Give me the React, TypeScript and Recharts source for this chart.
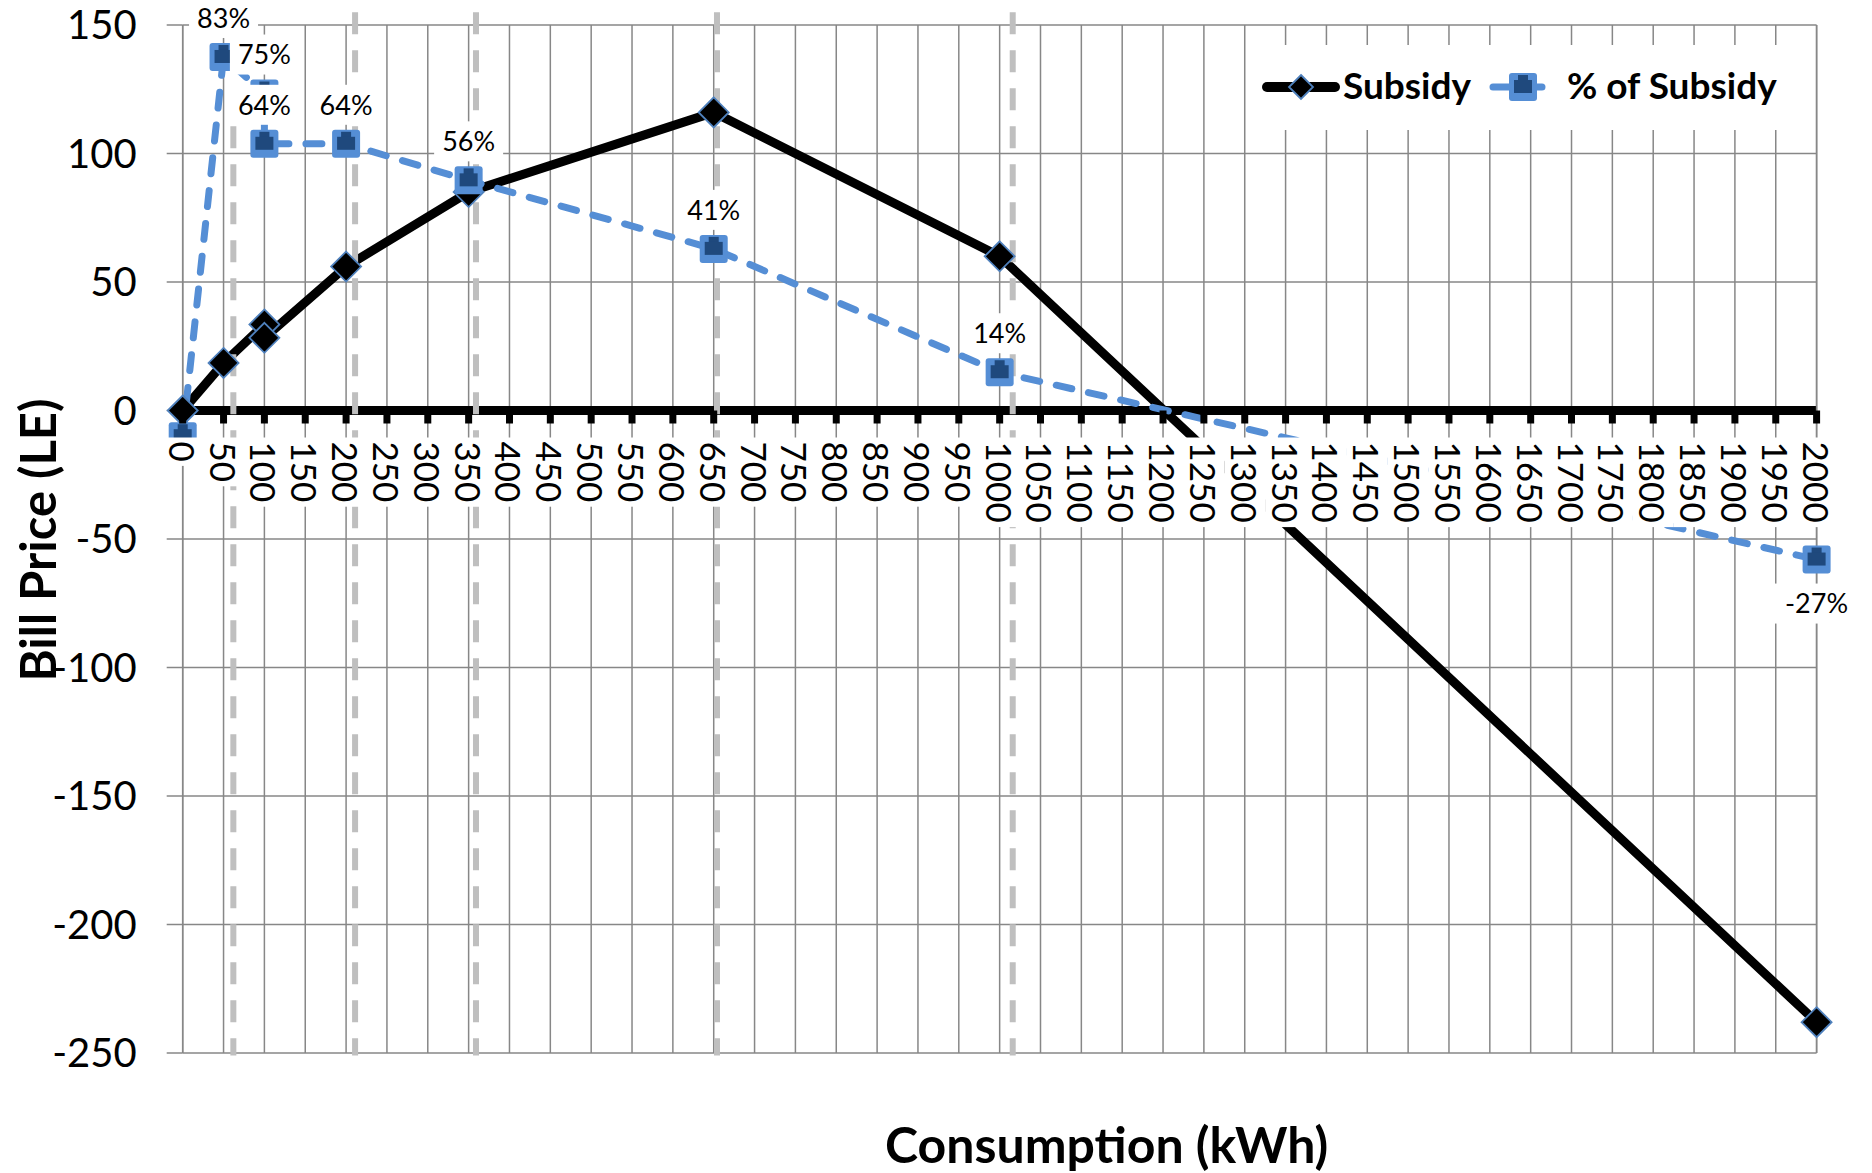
import React from 'react';
import {
  ComposedChart,
  Line,
  XAxis,
  YAxis,
  CartesianGrid,
  ReferenceLine,
  Legend,
  LabelList,
} from 'recharts';

// ---------- data ----------
const consumption = [0, 50, 100, 100, 200, 350, 650, 1000, 2000];
const subsidy = [0, 18.5, 33.5, 28.3, 56, 85, 116, 60, -238];
const subsidyShare = [0, 0.83, 0.75, 0.64, 0.64, 0.56, 0.41, 0.14, -0.27];

const xTicks = [
  0, 50, 100, 150, 200, 250, 300, 350, 400, 450, 500, 550, 600, 650, 700, 750, 800, 850, 900, 950,
  1000, 1050, 1100, 1150, 1200, 1250, 1300, 1350, 1400, 1450, 1500, 1550, 1600, 1650, 1700, 1750,
  1800, 1850, 1900, 1950, 2000,
];
const yTicks = [-250, -200, -150, -100, -50, 0, 50, 100, 150];
const shareTicks = [-1.35, -0.85, -0.35, 0.15, 0.65];
const bracketLines = [62, 211, 359, 654, 1016];

const data = consumption.map((c, i) => ({
  consumption: c,
  subsidy: subsidy[i],
  share: subsidyShare[i],
}));

// ---------- layout ----------
const W = 1872;
const H = 1173;
const PLOT_LEFT = 182.7;
const PLOT_RIGHT = 1816.6;
const PLOT_TOP = 25;
const PLOT_BOTTOM = 1053;
const Y_MIN = -250;
const Y_MAX = 150;
const Y0 = PLOT_TOP + ((PLOT_BOTTOM - PLOT_TOP) * (Y_MAX - 0)) / (Y_MAX - Y_MIN);

const FONT = 'Lato, "Open Sans", sans-serif';
const GRID = '#878787';
const BLUE = '#558ED5';
const NAVY = '#1F497D';

const XTick = (props: any) => {
  const { x, payload } = props;
  const label = String(payload.value);
  const top = Y0 + 31;
  const len = label.length * 20.4;
  return (
    <g>
      <line x1={x} y1={Y0} x2={x} y2={Y0 + 13} stroke="#000" strokeWidth={7} />
      <rect x={x - 20.5} y={top - 4} width={41} height={len + 8} fill="#fff" />
      <text
        x={x}
        y={top}
        transform={`rotate(90 ${x} ${top})`}
        fontFamily={FONT}
        fontSize={35}
        fill="#000"
        textAnchor="start"
        dominantBaseline="central"
      >
        {label}
      </text>
    </g>
  );
};

const drawDiamond = (cx: number, cy: number, s: number, key: any) => (
  <polygon
    key={key}
    points={`${cx},${cy - s} ${cx + s},${cy} ${cx},${cy + s} ${cx - s},${cy}`}
    fill="#000"
    stroke="#4F81BD"
    strokeWidth={1.8}
  />
);

const Diamond = (props: any) => {
  const { cx, cy, index } = props;
  if (cx == null || cy == null) return <g key={index} />;
  return drawDiamond(cx, cy, 15, index);
};

const ShareMarker = (props: any) => {
  const { cx, cy, index } = props;
  if (cx == null || cy == null) return <g key={index} />;
  return (
    <g key={index}>
      <rect x={cx - 14} y={cy - 14} width={28} height={28} rx={3} fill={BLUE} />
      <rect x={cx - 5} y={cy - 12} width={10} height={6} fill={NAVY} />
      <rect x={cx - 9} y={cy - 7} width={18} height={13} fill={NAVY} />
    </g>
  );
};

const ShareLabel = (props: any) => {
  const { x, y, value, index } = props;
  if (index === 0 || x == null || y == null) return null;
  const below = value < 0;
  const cy = below ? y + 44 : y - 39;
  const text = `${Math.round(value * 100)}%`;
  const w = text.length * 17 + 18;
  return (
    <g>
      <rect x={x - w / 2} y={cy - 20} width={w} height={40} fill="#fff" />
      <text x={x} y={cy} dy="0.36em" textAnchor="middle" fontFamily={FONT} fontSize={27} fill="#000">
        {text}
      </text>
    </g>
  );
};

const XTitle = (props: any) => {
  const vb = props.viewBox || {};
  const cx = (vb.x != null ? vb.x + vb.width / 2 : (PLOT_LEFT + PLOT_RIGHT) / 2) + 107;
  return (
    <text x={cx} y={1163} textAnchor="middle" fontFamily={FONT} fontWeight={700} fontSize={50} fill="#000">
      Consumption (kWh)
    </text>
  );
};

const YTitle = () => (
  <text
    x={56}
    y={540}
    transform="rotate(-90 56 540)"
    textAnchor="middle"
    fontFamily={FONT}
    fontWeight={700}
    fontSize={49}
    fill="#000"
  >
    Bill Price (LE)
  </text>
);

const LegendContent = () => (
  <svg width={550} height={85} style={{ display: 'block' }}>
    <line x1={12} y1={42} x2={80} y2={42} stroke="#000" strokeWidth={10} strokeLinecap="round" />
    {drawDiamond(46, 42, 12, 'ld')}
    <text x={88} y={54} fontFamily={FONT} fontWeight={700} fontSize={37} fill="#000">
      Subsidy
    </text>
    <line
      x1={238}
      y1={42}
      x2={302}
      y2={42}
      stroke={BLUE}
      strokeWidth={7}
      strokeDasharray="16 17"
      strokeLinecap="round"
    />
    <ShareMarker cx={268} cy={42} index={1} />
    <text x={312} y={54} fontFamily={FONT} fontWeight={700} fontSize={37} fill="#000">
      % of Subsidy
    </text>
  </svg>
);

export default function App() {
  return (
    <div style={{ position: 'absolute', left: 0, top: 0, width: W, height: H, background: '#fff' }}>
      <ComposedChart
        width={W}
        height={H}
        data={data}
        margin={{ top: PLOT_TOP, right: 0, bottom: 0, left: 0 }}
      >
        <CartesianGrid yAxisId="left" stroke={GRID} strokeWidth={1.5} />
        <XAxis
          dataKey="consumption"
          type="number"
          domain={[0, 2000]}
          ticks={xTicks}
          interval={0}
          axisLine={false}
          tickLine={false}
          tick={<XTick />}
          height={H - PLOT_BOTTOM}
          label={<XTitle />}
        />
        <YAxis
          yAxisId="left"
          type="number"
          domain={[Y_MIN, Y_MAX]}
          ticks={yTicks}
          interval={0}
          width={PLOT_LEFT}
          tickSize={16}
          tickMargin={30}
          axisLine={{ stroke: GRID, strokeWidth: 1.5 }}
          tickLine={{ stroke: GRID, strokeWidth: 1.5 }}
          tick={{ fontFamily: FONT, fontSize: 40, fill: '#000' }}
          label={<YTitle />}
        />
        <YAxis
          yAxisId="right"
          orientation="right"
          type="number"
          domain={[-1.35, 0.9]}
          ticks={shareTicks}
          interval={0}
          width={W - PLOT_RIGHT}
          tickSize={8}
          axisLine={{ stroke: GRID, strokeWidth: 1.5 }}
          tickLine={{ stroke: GRID, strokeWidth: 1.5 }}
          tick={false}
        />
        <ReferenceLine yAxisId="left" y={0} stroke="#000" strokeWidth={9} />
        <Line
          yAxisId="left"
          dataKey="subsidy"
          stroke="#000"
          strokeWidth={9}
          strokeLinejoin="round"
          dot={Diamond}
          activeDot={false}
          isAnimationActive={false}
        />
        <Line
          yAxisId="right"
          dataKey="share"
          stroke={BLUE}
          strokeWidth={7}
          strokeDasharray="16 17"
          strokeLinecap="round"
          dot={ShareMarker}
          activeDot={false}
          isAnimationActive={false}
        >
          <LabelList dataKey="share" content={<ShareLabel />} />
        </Line>
        {bracketLines.map((v) => (
          <ReferenceLine
            key={v}
            yAxisId="left"
            segment={[
              { x: v, y: 155 },
              { x: v, y: -251 },
            ]}
            stroke="#BFBFBF"
            strokeWidth={6}
            strokeDasharray="22 16"
            ifOverflow="visible"
          />
        ))}
        <Legend
          layout="horizontal"
          verticalAlign="middle"
          align="center"
          content={<LegendContent />}
          wrapperStyle={{ position: 'absolute', left: 1255, top: 45, width: 550, height: 85, background: '#fff' }}
        />
      </ComposedChart>
    </div>
  );
}
